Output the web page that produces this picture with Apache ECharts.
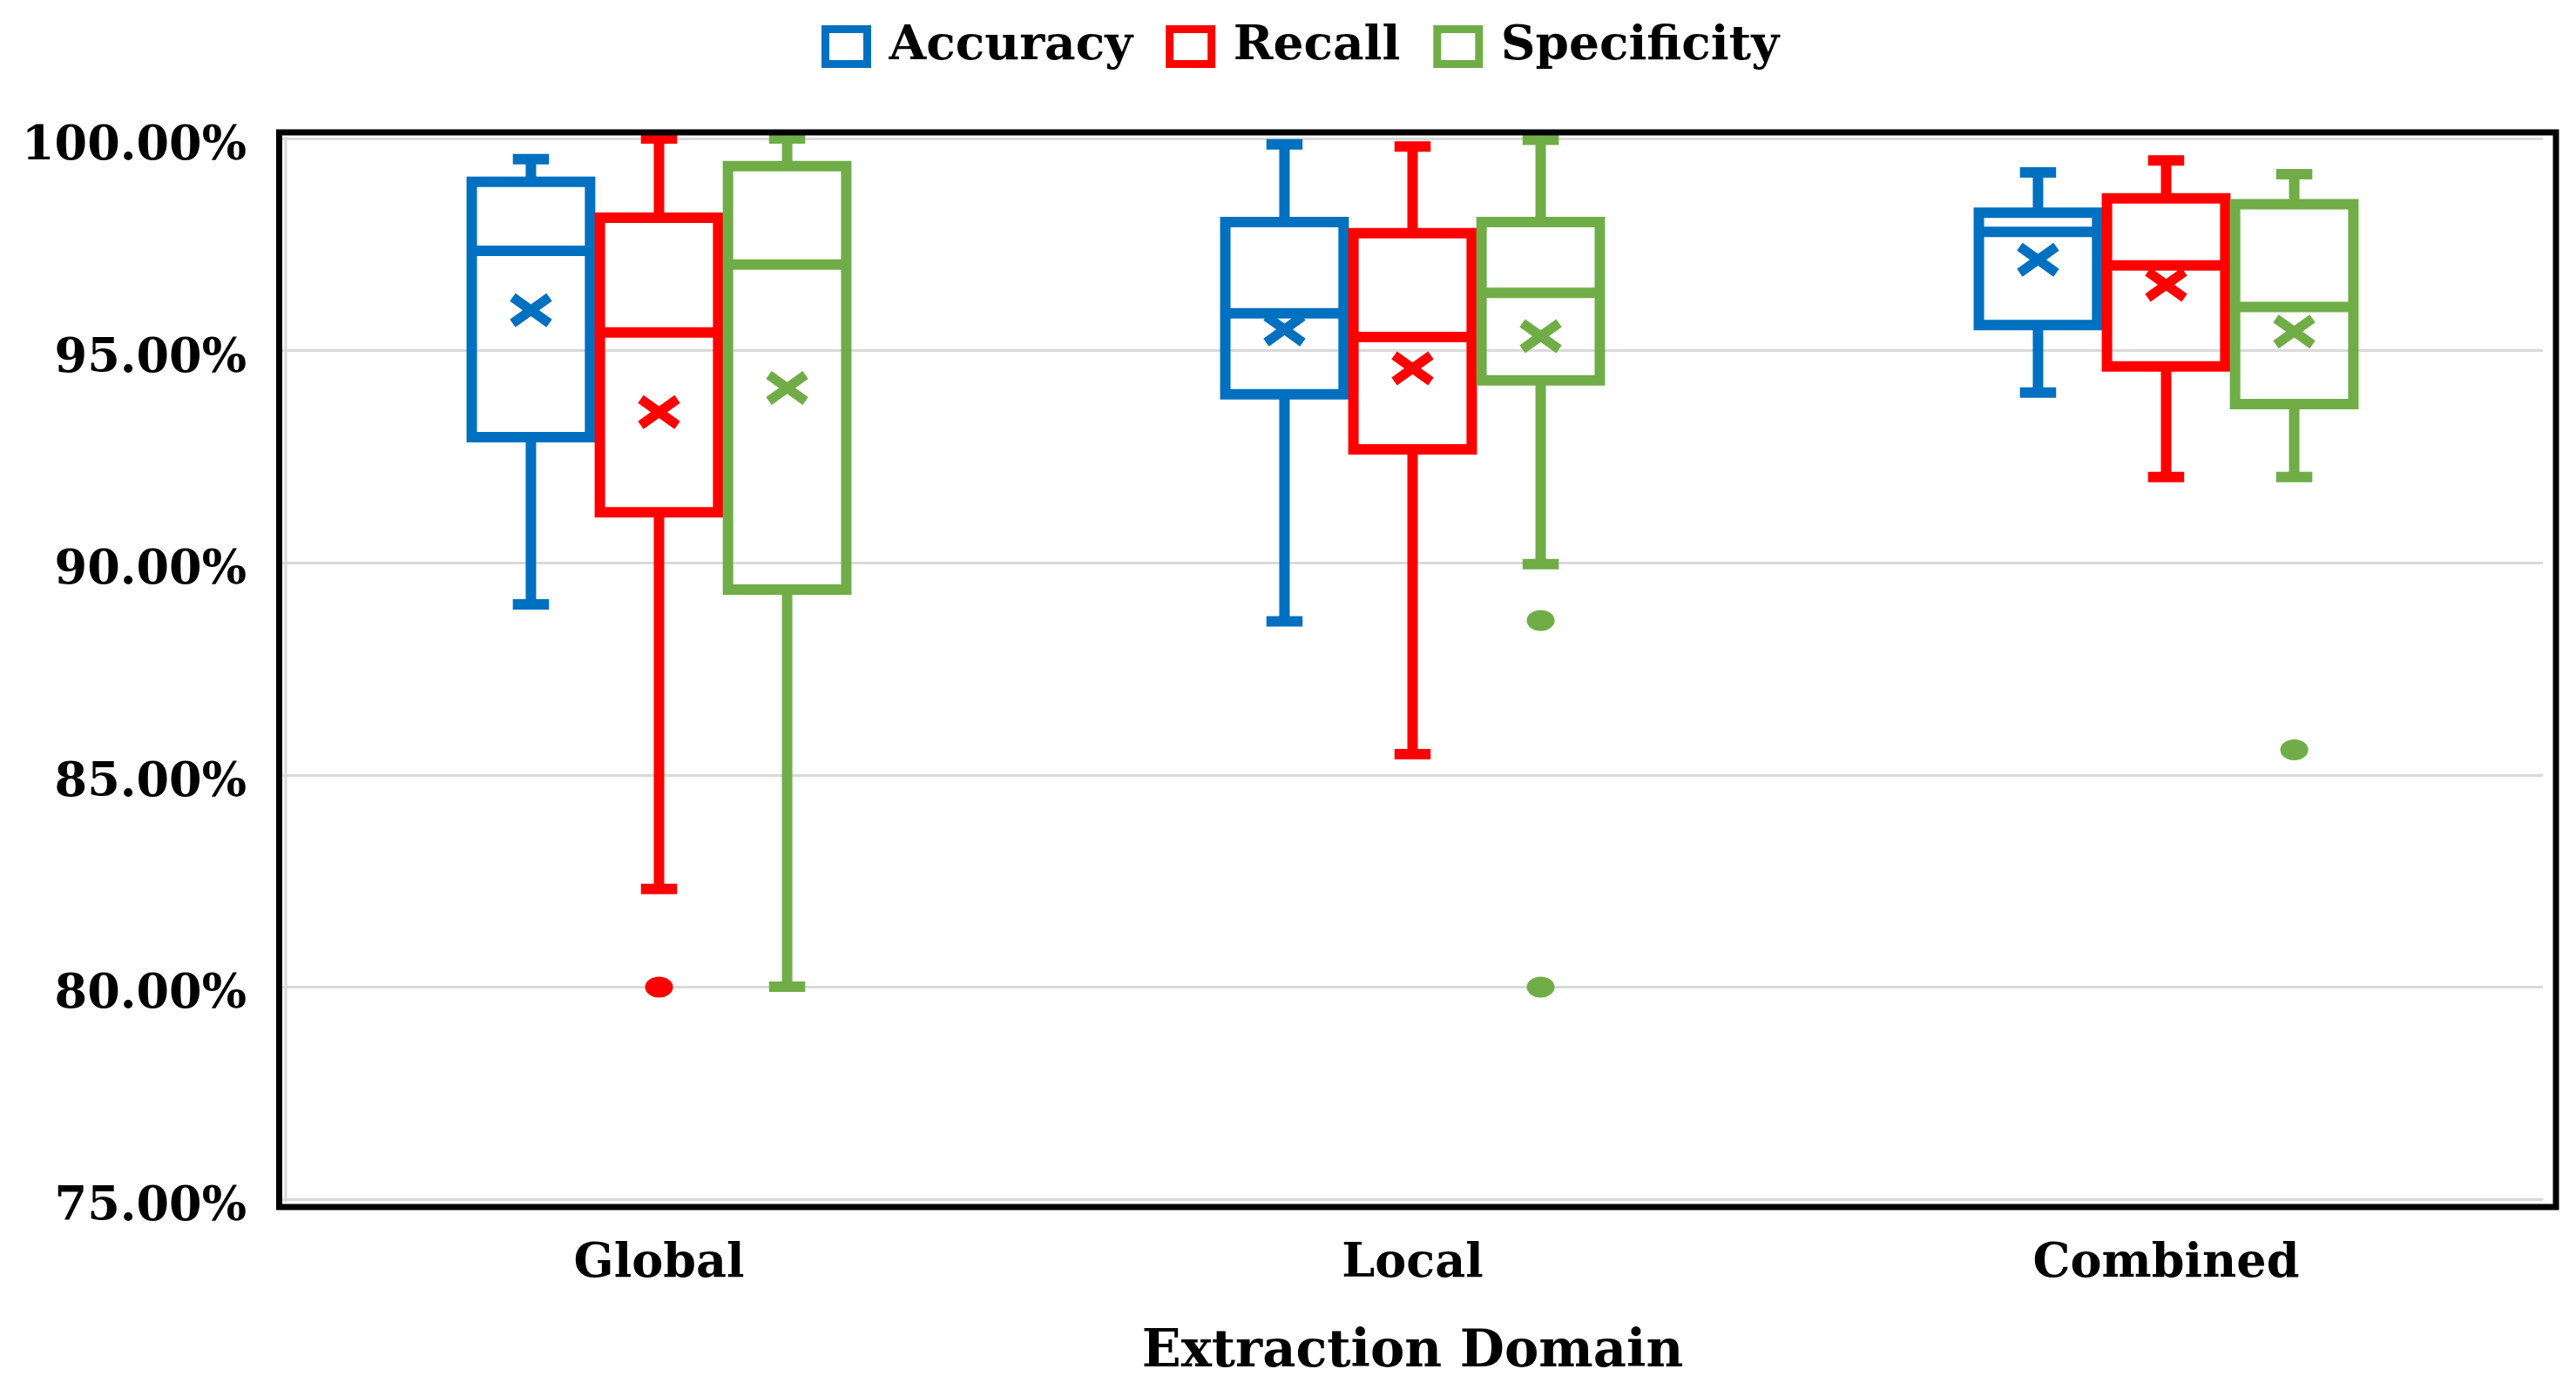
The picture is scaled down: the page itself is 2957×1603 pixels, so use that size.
<!DOCTYPE html>
<html>
<head>
<meta charset="utf-8">
<script src="https://cdn.jsdelivr.net/npm/echarts@6/dist/echarts.min.js"></script>
<style>
html,body{margin:0;padding:0;background:#fff;}
#chart{width:2957px;height:1603px;}
</style>
</head>
<body>
<div id="chart"></div>
<script>
// ---- data ----
const categories = ['Global', 'Local', 'Combined'];
const seriesNames = ['Accuracy', 'Recall', 'Specificity'];
const seriesColors = ['#0070C0', '#FF0000', '#70AD47'];
const yTicks = [75, 80, 85, 90, 95, 100];

// [min, Q1, median, Q3, max] per category
const accuracyBox = [
  [89.02, 92.96, 97.35, 98.98, 99.51],
  [88.62, 93.97, 95.88, 98.03, 99.86],
  [94.01, 95.60, 97.80, 98.25, 99.20]
];
const accuracyMean = [95.95, 95.50, 97.14];
const accuracyOutliers = [];

const recallBox = [
  [82.31, 91.19, 95.43, 98.13, 100.0],
  [85.49, 92.67, 95.32, 97.77, 99.81],
  [92.02, 94.63, 97.01, 98.59, 99.48]
];
const recallMean = [93.55, 94.58, 96.55];
const recallOutliers = [[0, 80.0]];

const specificityBox = [
  [80.01, 89.37, 97.03, 99.35, 100.0],
  [89.97, 94.30, 96.36, 98.03, 99.97],
  [92.02, 93.74, 96.03, 98.45, 99.16]
];
const specificityMean = [94.12, 95.34, 95.45];
const specificityOutliers = [[1, 88.64], [1, 80.0], [2, 85.59]];

const boxData = [accuracyBox, recallBox, specificityBox];
const meanData = [accuracyMean, recallMean, specificityMean];
const outlierData = [accuracyOutliers, recallOutliers, specificityOutliers];

// ---- style ----
const FONT = 'DejaVu Serif';
const BOX_OFFSET = 0.170;   // fraction of band width between neighbouring boxes
const BOX_WIDTH = 0.157;    // fraction of band width
const CAP_WIDTH = 0.048;
const LW = 12;

function makeBoxRender(sIdx) {
  const color = seriesColors[sIdx];
  return function (params, api) {
    const cat = api.value(0);
    const band = api.size([1, 0])[0];
    const cx = api.coord([cat, 0])[0] + (sIdx - 1) * band * BOX_OFFSET;
    const y = i => api.coord([cat, api.value(i)])[1];
    const yMin = y(1), yQ1 = y(2), yMed = y(3), yQ3 = y(4), yMax = y(5), yMean = y(6);
    const hw = band * BOX_WIDTH / 2, cw = band * CAP_WIDTH / 2;
    const ls = {stroke: color, lineWidth: LW, fill: null, lineCap: 'butt'};
    const line = (x1, y1, x2, y2, st) => ({type: 'line', shape: {x1, y1, x2, y2}, style: st || ls});
    const mx = 21, my = 15;
    const xs = {stroke: color, lineWidth: 11, lineCap: 'butt'};
    return {
      type: 'group',
      children: [
        line(cx, yQ3, cx, yMax),
        line(cx - cw, yMax, cx + cw, yMax),
        line(cx, yQ1, cx, yMin),
        line(cx - cw, yMin, cx + cw, yMin),
        {type: 'rect', shape: {x: cx - hw, y: yQ3, width: 2 * hw, height: yQ1 - yQ3},
         style: {stroke: color, lineWidth: LW, fill: null, lineJoin: 'miter'}},
        line(cx - hw, yMed, cx + hw, yMed),
        line(cx - mx, yMean - my, cx + mx, yMean + my, xs),
        line(cx - mx, yMean + my, cx + mx, yMean - my, xs)
      ]
    };
  };
}

function makeOutlierRender(sIdx) {
  const color = seriesColors[sIdx];
  return function (params, api) {
    const cat = api.value(0);
    const band = api.size([1, 0])[0];
    const p = api.coord([cat, api.value(1)]);
    const cx = p[0] + (sIdx - 1) * band * BOX_OFFSET;
    return {
      type: 'circle', x: cx, y: p[1], scaleY: 0.75,
      shape: {cx: 0, cy: 0, r: 16},
      style: {fill: color}
    };
  };
}

const series = [];
seriesNames.forEach((name, s) => {
  series.push({
    name: name,
    type: 'custom',
    renderItem: makeBoxRender(s),
    encode: {x: 0, y: [1, 2, 3, 4, 5, 6]},
    data: boxData[s].map((b, c) => [c].concat(b, [meanData[s][c]])),
    itemStyle: {color: seriesColors[s]},
    clip: false,
    z: 3
  });
  series.push({
    name: name,
    type: 'custom',
    renderItem: makeOutlierRender(s),
    encode: {x: 0, y: 1},
    data: outlierData[s],
    itemStyle: {color: seriesColors[s]},
    z: 3
  });
});

const chart = echarts.init(document.getElementById('chart'), null, {renderer: 'canvas'});
chart.setOption({
  animation: false,
  backgroundColor: '#fff',
  legend: {
    top: 21,
    left: 938,
    itemWidth: 48,
    itemHeight: 40,
    itemGap: 38,
    textStyle: {fontFamily: FONT, fontWeight: 'bold', fontSize: 55, color: '#000', padding: [0, 0, 0, 20]},
    data: seriesNames.map((n, i) => ({
      name: n, icon: 'rect',
      itemStyle: {color: '#fff', borderColor: seriesColors[i], borderWidth: 9}
    }))
  },
  graphic: [
    {type: 'rect', z: 10, silent: true,
     shape: {x: 320.5, y: 152, width: 2613.5, height: 1234},
     style: {fill: null, stroke: '#000', lineWidth: 7}},
    {type: 'line', z: 1, silent: true,
     shape: {x1: 328, y1: 157, x2: 328, y2: 1380},
     style: {stroke: '#d9d9d9', lineWidth: 3}}
  ],
  grid: {
    left: 324, right: 38, top: 159, bottom: 226,
    show: false
  },
  xAxis: {
    type: 'category',
    data: categories,
    name: 'Extraction Domain',
    nameLocation: 'middle',
    nameGap: 147,
    nameTextStyle: {fontFamily: FONT, fontWeight: 'bold', fontSize: 59, color: '#000'},
    axisLine: {show: false},
    axisTick: {show: false},
    axisLabel: {fontFamily: FONT, fontWeight: 'bold', fontSize: 54, color: '#000', margin: 48},
    splitLine: {show: false}
  },
  yAxis: {
    type: 'value',
    min: yTicks[0], max: yTicks[yTicks.length - 1], interval: 5,
    axisLine: {show: false},
    axisTick: {show: false},
    axisLabel: {
      fontFamily: FONT, fontWeight: 'bold', fontSize: 54, color: '#000', margin: 41,
      verticalAlign: 'top', lineHeight: 20,
      formatter: v => v.toFixed(2) + '%'
    },
    splitLine: {lineStyle: {color: '#d9d9d9', width: 3}}
  },
  series: series
});
</script>
</body>
</html>
